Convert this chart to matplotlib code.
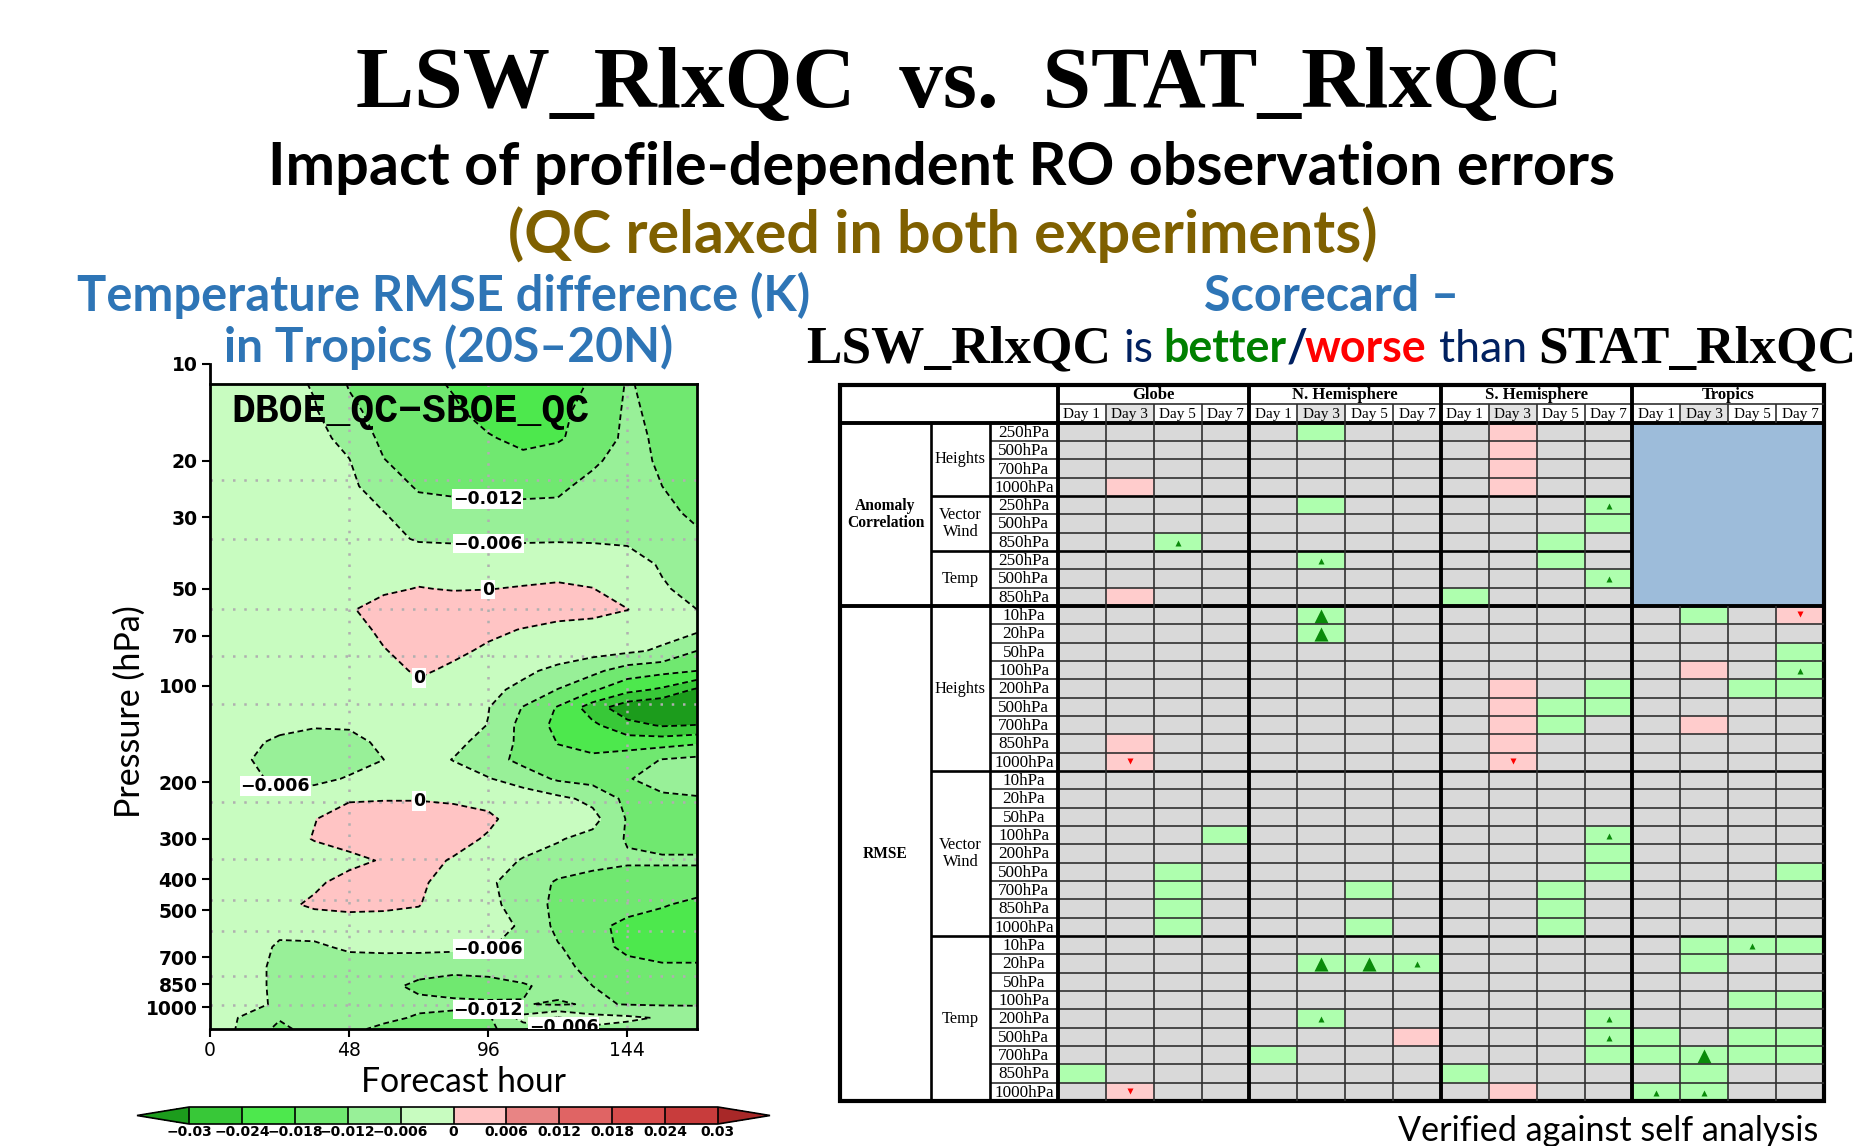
import numpy as np
import matplotlib
matplotlib.use("Agg")
import matplotlib.pyplot as plt
from matplotlib.colors import ListedColormap, BoundaryNorm
from matplotlib.patches import Rectangle
from matplotlib.ticker import NullLocator

plt.rcParams['lines.dashed_pattern'] = [3.2, 2.0]

# ---------------- contour data: tropical temperature RMSE difference ----------------
hours = [0, 12, 24, 36, 48, 60, 72, 84, 96, 108, 120, 132, 144, 156, 168]
plev = [11.5, 14, 17, 20, 24, 29, 35, 42, 50, 58, 67, 78, 90, 103, 117, 133,
        150, 170, 195, 225, 260, 300, 350, 410, 480, 560, 650, 750, 860, 980, 1080, 1170]

# RMSE difference in 1e-3 K, one row per pressure level, one column per forecast hour
dT_milli = [
    [-1, -2, -4, -6.5, -12.5, -15, -16.5, -18.5, -21, -22, -20, -17.5, -11.5, -14, -15],
    [-1, -2, -3, -5.5, -10.5, -14.5, -16, -17.2, -20, -21, -19, -16.5, -11, -13.5, -15],
    [-1, -2, -3, -4.5, -7.5, -13.5, -15.5, -16.5, -17.5, -19.5, -18.5, -16, -10.5, -13, -14.5],
    [-1, -2, -3, -4, -5.8, -11.8, -14.5, -15.5, -16, -16.5, -15.8, -12.8, -10, -12.8, -14],
    [-1, -2, -3, -3.5, -5, -8.5, -12.8, -13.2, -13.3, -13.3, -13, -10.5, -9.5, -12, -13.5],
    [-1, -2, -2.5, -3, -4.5, -5.9, -9, -10, -10.5, -10.5, -10.5, -10, -9.5, -11, -12.8],
    [-1, -2, -2.5, -3, -3.5, -4.5, -6.5, -6.8, -6.8, -6.7, -6.6, -6.7, -6.7, -8.5, -11.2],
    [-1, -1.5, -2, -2.5, -2.5, -2, -2, -2, -2, -2, -1.5, -2, -4, -6.5, -9],
    [-1, -1.5, -2, -2, -1.5, -0.8, 0.2, -0.3, -0.1, 0.3, 0.6, 0.1, -2, -5.5, -7.5],
    [-1, -1.5, -2, -2, -0.5, 2, 3, 3, 2.5, 2.5, 2, 1.5, 0.1, -3, -6],
    [-1, -1.5, -2, -2, -1.5, 0.8, 2, 2, 1, -0.2, -1.5, -2, -3, -4, -5],
    [-1, -1.5, -2, -2, -2, -0.2, 1.5, 1, -0.8, -2, -3, -4, -5, -6.8, -12],
    [-1, -1.5, -2, -2, -2, -2, 0.8, -1, -3, -4.8, -7.5, -10.5, -15, -16.5, -18],
    [-1, -1.5, -2, -2.5, -2.5, -2.5, -1.5, -2, -4.5, -7.5, -12.2, -17.2, -22.2, -25, -31],
    [-1, -1.5, -2.5, -3, -3, -3, -3, -2.5, -5.8, -12.3, -18.5, -27, -34, -36, -36],
    [-1, -2, -4, -5.5, -5.5, -4, -3, -3, -6.2, -14, -19.5, -22.8, -28, -30.5, -29.8],
    [-1, -4, -7.5, -8.5, -7.5, -5, -3.5, -4.5, -8, -13.5, -18.2, -20.5, -21, -20.5, -19],
    [-1, -5.5, -8, -8.8, -8, -6, -3.5, -6.2, -9.8, -13.5, -16.5, -16.5, -14.5, -11.8, -10.5],
    [-1, -4, -7.5, -7.5, -5.5, -3, -2, -3.5, -5.6, -9, -12.8, -14, -12.5, -9, -7.5],
    [-1, -2, -4.5, -2.5, -0.5, -0.3, -0.3, -0.8, -1.2, -2, -4.5, -7.5, -13.5, -13.5, -12.8],
    [-1, -2, -2.5, -0.2, 2.5, 3, 3, 2.5, 0.8, -2, -3, -4, -12.5, -14.5, -14.5],
    [-1, -2, -2.5, 0.3, 2, 1.5, 2, 1.5, -0.5, -3, -5.5, -8, -12.5, -14, -14],
    [-1, -2, -3, -3, -1.5, 0.5, 1.5, -0.4, -3, -6.5, -8.5, -10, -11.2, -11.2, -11.2],
    [-1, -2, -3, -1, 2, 2, 1, -2.5, -5.2, -8.5, -12.8, -14.5, -15, -15, -15],
    [-1, -2, -1.5, 1, 1.5, 1, 0.2, -2.5, -4.5, -8.5, -13.5, -15, -16, -17.5, -19.5],
    [-1, -2, -4.5, -4, -3, -2.5, -2, -2.5, -4.5, -6.5, -13.5, -16.5, -19.5, -21, -21],
    [-1, -3, -6.8, -6.8, -5.2, -4.5, -4.2, -4.5, -5.5, -8.5, -11.5, -15.5, -19.5, -21.5, -21.5],
    [-1, -3.5, -7.5, -8, -8.5, -9.5, -10.5, -11, -10.5, -9.5, -10.5, -13.5, -16, -17, -17],
    [-1, -3.5, -7.5, -8.5, -9.5, -11, -12.8, -13.5, -13.5, -12.5, -10.5, -12, -14.5, -15, -14.5],
    [-1, -3, -7.5, -9, -9.5, -10.5, -11, -11.2, -11.5, -11.8, -12.5, -11.5, -12.2, -12.5, -12.3],
    [-2, -7, -11.5, -9, -9.5, -11, -12.5, -13, -12.8, -4, 0.5, -4, -5, -6.5, -9.5],
    [-2, -7.5, -13.5, -9.5, -11, -13, -13.5, -13.5, -13, -9, -7, -7, -8, -9, -9.5],
]

levels = [-0.03, -0.024, -0.018, -0.012, -0.006, 0.0, 0.006, 0.012, 0.018, 0.024, 0.03]
level_labels = ['−0.03', '−0.024', '−0.018', '−0.012', '−0.006', '0',
                '0.006', '0.012', '0.018', '0.024', '0.03']
labelled_levels = [-0.012, -0.006, 0.0]
pressure_ticks = [10, 20, 30, 50, 70, 100, 200, 300, 400, 500, 700, 850, 1000]
hour_ticks = [0, 48, 96, 144]

# ---------------- scorecard data ----------------
regions = ['Globe', 'N. Hemisphere', 'S. Hemisphere', 'Tropics']
days = ['Day 1', 'Day 3', 'Day 5', 'Day 7']
sections = [('Anomaly\nCorrelation', 0, 10), ('RMSE', 10, 37)]
variables = [('Heights', 0, 4), ('Vector\nWind', 4, 7), ('Temp', 7, 10),
             ('Heights', 10, 19), ('Vector\nWind', 19, 28), ('Temp', 28, 37)]
ac_levels = ['250hPa', '500hPa', '700hPa', '1000hPa',
             '250hPa', '500hPa', '850hPa',
             '250hPa', '500hPa', '850hPa']
rmse_levels = ['10hPa', '20hPa', '50hPa', '100hPa', '200hPa',
               '500hPa', '700hPa', '850hPa', '1000hPa']
row_levels = ac_levels + rmse_levels * 3

# . no difference, + better, ^ better (significant), A better (highly significant),
# - worse, v worse (significant), x not verified
scores = [
    '.... .+.. .-.. xxxx',
    '.... .... .-.. xxxx',
    '.... .... .-.. xxxx',
    '.-.. .... .-.. xxxx',
    '.... .+.. ...^ xxxx',
    '.... .... ...+ xxxx',
    '..^. .... ..+. xxxx',
    '.... .^.. ..+. xxxx',
    '.... .... ...^ xxxx',
    '.-.. .... +... xxxx',
    '.... .A.. .... .+.v',
    '.... .A.. .... ....',
    '.... .... .... ...+',
    '.... .... .... .-.^',
    '.... .... .-.+ ..++',
    '.... .... .-++ ....',
    '.... .... .-+. .-..',
    '.-.. .... .-.. ....',
    '.v.. .... .v.. ....',
    '.... .... .... ....',
    '.... .... .... ....',
    '.... .... .... ....',
    '...+ .... ...^ ....',
    '.... .... ...+ ....',
    '..+. .... ...+ ...+',
    '..+. ..+. ..+. ....',
    '..+. .... ..+. ....',
    '..+. ..+. ..+. ....',
    '.... .... .... .+^+',
    '.... .AA^ .... .+..',
    '.... .... .... ....',
    '.... .... .... ..++',
    '.... .^.. ...^ ....',
    '.... ...- ...^ +.++',
    '.... +... ...+ +A++',
    '+... .... +... .+..',
    '.v.. .... .-.. ^^..',
]
scores = [s.replace(' ', '') for s in scores]

# ---------------- figure ----------------
W, H = 1860, 1146
fig = plt.figure(figsize=(W / 100, H / 100), dpi=100)
renderer = fig.canvas.get_renderer()


def fx(x):
    return x / W


def fy(y):
    return 1 - y / H


def fit(t, length):
    bb = t.get_window_extent(renderer)
    t.set_fontsize(t.get_fontsize() * length / max(bb.width, bb.height))


SANS = ['Lato', 'DejaVu Sans']
SERIF = ['Liberation Serif', 'DejaVu Serif']
blue = '#2e75b6'
navy = '#002060'

t = fig.text(fx(959), fy(107), 'LSW_RlxQC  vs.  STAT_RlxQC', ha='center', va='baseline',
             family=SERIF, weight='bold', size=60)
fit(t, 1207)
t = fig.text(fx(942), fy(185), 'Impact of profile-dependent RO observation errors',
             ha='center', va='baseline', family=SANS, weight='bold', size=34)
fit(t, 1346)
t = fig.text(fx(943), fy(253), '(QC relaxed in both experiments)', ha='center', va='baseline',
             family=SANS, weight='bold', size=34, color='#7f6000')
fit(t, 871)
t = fig.text(fx(444), fy(311), 'Temperature RMSE difference (K)', ha='center', va='baseline',
             family=SANS, weight='bold', size=30, color=blue)
fit(t, 733)
t = fig.text(fx(449), fy(362), 'in Tropics (20S–20N)', ha='center', va='baseline',
             family=SANS, weight='bold', size=30, color=blue)
fit(t, 449)
t = fig.text(fx(1332), fy(311), 'Scorecard –', ha='center', va='baseline',
             family=SANS, weight='bold', size=30, color=blue)
fit(t, 255)

# mixed-style scorecard subtitle
t = fig.text(fx(806), fy(362), 'LSW_RlxQC', ha='left', va='baseline',
             family=SERIF, weight='bold', size=38)
fit(t, 305)
t = fig.text(fx(1538), fy(362), 'STAT_RlxQC', ha='left', va='baseline',
             family=SERIF, weight='bold', size=38)
fit(t, 318)
better = fig.text(fx(1163), fy(362), 'better', ha='left', va='baseline',
                  family=SANS, weight='bold', size=30, color='#008000')
fit(better, 123)
ws = better.get_fontsize()
fig.text(fx(1123), fy(362), 'is', ha='left', va='baseline', family=SANS, size=ws, color=navy)
fig.text(fx(1287), fy(362), '/', ha='left', va='baseline', family=SANS, weight='bold',
         size=ws, color=navy)
fig.text(fx(1305), fy(362), 'worse', ha='left', va='baseline', family=SANS, weight='bold',
         size=ws, color='#ff0000')
fig.text(fx(1439), fy(362), 'than', ha='left', va='baseline', family=SANS, size=ws, color=navy)

t = fig.text(fx(1818), fy(1141), 'Verified against self analysis', ha='right', va='baseline',
             family=SANS, size=24)
fit(t, 421)

# ---------------- contour panel ----------------
ax = fig.add_axes([fx(210), fy(1029), 487 / W, (1029 - 364) / H])
diff = np.array(dT_milli) * 1e-3

band_colors = ['#38c838', '#4de84d', '#70e870', '#98f098', '#c8fcc0',
               '#ffc4c4', '#e88484', '#e06464', '#d84c4c', '#c83c3c']
cmap = ListedColormap(band_colors).with_extremes(under='#1c9c1c', over='#a82828')
norm = BoundaryNorm(levels, cmap.N)

cf = ax.contourf(hours, plev, diff, levels=levels, cmap=cmap, norm=norm, extend='both', zorder=1)
plain_levels = [v for v in levels if v not in labelled_levels]
ax.contour(hours, plev, diff, levels=plain_levels, colors='k', linewidths=1.3,
           linestyles='dashed', zorder=3)
cs = ax.contour(hours, plev, diff, levels=labelled_levels, colors='k', linewidths=1.3,
                linestyles='dashed', zorder=3)

ax.set_yscale('log')
ax.set_ylim(plev[-1], 10)
ax.set_xlim(hours[0], hours[-1])

# dotted grid
ax.vlines([48, 96, 144], plev[0], plev[-1], colors='#b0b0b0', linestyles=(0, (1, 3.5)),
          linewidth=1.8, zorder=2)
ax.hlines([23, 35, 58, 81, 114, 231, 347, 463, 582, 802, 984], 0, 168, colors='#b0b0b0',
          linestyles=(0, (1, 3.5)), linewidth=1.8, zorder=2)


def fmt(v):
    return '0' if abs(v) < 1e-9 else f'{v:.3f}'.replace('-', '−')


spots = [(96, 25), (96, 38), (96, 51), (72, 96), (22, 209), (72, 228),
         (96, 662), (96, 1018), (122, 1150)]
labels = ax.clabel(cs, manual=spots, fmt=fmt, fontsize=12.5, inline=False)
for lb in labels:
    lb.set_rotation(0)
    lb.set_fontweight('bold')
    lb.set_family('DejaVu Sans')
    lb.set_bbox(dict(facecolor='white', edgecolor='none', pad=0.6))
    lb.set_zorder(5)

t = ax.text(0.043, 0.93, 'DBOE_QC−SBOE_QC', transform=ax.transAxes, ha='left', va='center',
            family=['Liberation Mono', 'DejaVu Sans Mono'], weight='bold', size=25, zorder=6)
fit(t, 359)

ax.set_yticks(pressure_ticks)
ax.set_yticklabels([str(p) for p in pressure_ticks])
ax.yaxis.set_minor_locator(NullLocator())
ax.set_xticks(hour_ticks)
ax.set_xticklabels([str(h) for h in hour_ticks])
ax.tick_params(direction='out', length=6, width=1.5, labelsize=13.5, pad=3)
for lb in ax.get_xticklabels() + ax.get_yticklabels():
    lb.set_fontweight('bold')
for sp in ax.spines.values():
    sp.set_linewidth(2)
ax.spines['top'].set_position(('data', plev[0]))
ax.spines['right'].set_bounds(plev[0], plev[-1])

t = fig.text(fx(130), fy(712), 'Pressure (hPa)', rotation=90, ha='center', va='center',
             family=SANS, size=24)
fit(t, 213)
t = fig.text(fx(463), fy(1082), 'Forecast hour', ha='center', va='center', family=SANS, size=24)
fit(t, 205)

# colorbar with pointed ends
cax = fig.add_axes([fx(137), fy(1124), (770 - 137) / W, 17 / H])
cb = fig.colorbar(cf, cax=cax, orientation='horizontal', extendfrac=0.0987,
                  ticks=levels, drawedges=True)
cb.outline.set_linewidth(1.2)
cb.dividers.set_linewidth(1.2)
cb.ax.set_xticklabels(level_labels)
cb.ax.tick_params(length=0, labelsize=10, pad=1)
for lb in cb.ax.get_xticklabels():
    lb.set_fontweight('bold')

# ---------------- scorecard table ----------------
ax_t = fig.add_axes([fx(840), fy(1101), 984 / W, 716 / H])
X1, X2, X3 = -4.55, -2.65, -1.42
YH1, YH2 = -2.06, -1.03
NROW, NCOL = len(scores), 16
ax_t.set_xlim(X1, NCOL)
ax_t.set_ylim(NROW, YH1)
ax_t.axis('off')

fill = {'.': '#d9d9d9', '+': '#aeffae', '^': '#aeffae', 'A': '#aeffae',
        '-': '#ffcccc', 'v': '#ffcccc', 'x': '#9dbcda'}
for r, row in enumerate(scores):
    for c, code in enumerate(row):
        ax_t.add_patch(Rectangle((c, r), 1, 1, facecolor=fill[code], edgecolor='none'))
        if code == '^':
            ax_t.plot(c + 0.5, r + 0.55, '^', ms=4, color='#0a8a0a', mec='none')
        elif code == 'A':
            ax_t.plot(c + 0.5, r + 0.55, '^', ms=10, color='#0a8a0a', mec='none')
        elif code == 'v':
            ax_t.plot(c + 0.5, r + 0.45, 'v', ms=4, color='#ff0000', mec='none')

for k in range(4):
    ax_t.add_patch(Rectangle((4 * k + 1, YH2), 1, -YH2, facecolor='#e3e3e3', edgecolor='none'))
    ax_t.text(4 * k + 2, (YH1 + YH2) / 2 + 0.05, regions[k], ha='center', va='center',
              family=SERIF, weight='bold', size=12)
    for d in range(4):
        ax_t.text(4 * k + d + 0.5, YH2 / 2 + 0.05, days[d], ha='center', va='center',
                  family=SERIF, size=11)

for r, lev in enumerate(row_levels):
    ax_t.text((X3 + 0) / 2, r + 0.55, lev, ha='center', va='center', family=SERIF, size=12.3)
for name, r0, r1 in variables:
    ax_t.text((X2 + X3) / 2, (r0 + r1) / 2, name, ha='center', va='center', family=SERIF,
              size=11.8, linespacing=1.05)
for name, r0, r1 in sections:
    ax_t.text((X1 + X2) / 2, (r0 + r1) / 2, name, ha='center', va='center', family=SERIF,
              weight='bold', size=11.2, linespacing=1.1)

thin = dict(color='#303030', lw=1.2)
mid = dict(color='black', lw=1.9)
thick = dict(color='black', lw=2.8)
n_ac = 10

# horizontal lines
for r in range(1, NROW):
    if r == n_ac:
        continue
    right = 12 if r < n_ac else NCOL
    if r in (4, 7, 19, 28):
        ax_t.hlines(r, X2, right, **mid)
    else:
        ax_t.hlines(r, X3, right, **thin)
ax_t.hlines(YH2, 0, NCOL, **thin)
ax_t.hlines([0, n_ac], X1, NCOL, **thick)

# vertical lines
for c in range(1, NCOL):
    if c % 4 == 0:
        continue
    if c > 12:
        ax_t.vlines(c, YH2, 0, **thin)
        ax_t.vlines(c, n_ac, NROW, **thin)
    else:
        ax_t.vlines(c, YH2, NROW, **thin)
ax_t.vlines([X2, X3], 0, NROW, **mid)
ax_t.vlines([0, 4, 8, 12], YH1, NROW, **thick)
ax_t.add_patch(Rectangle((X1, YH1), NCOL - X1, NROW - YH1, facecolor='none',
                         edgecolor='black', lw=3, clip_on=False))

fig.savefig('out.png', dpi=100)
